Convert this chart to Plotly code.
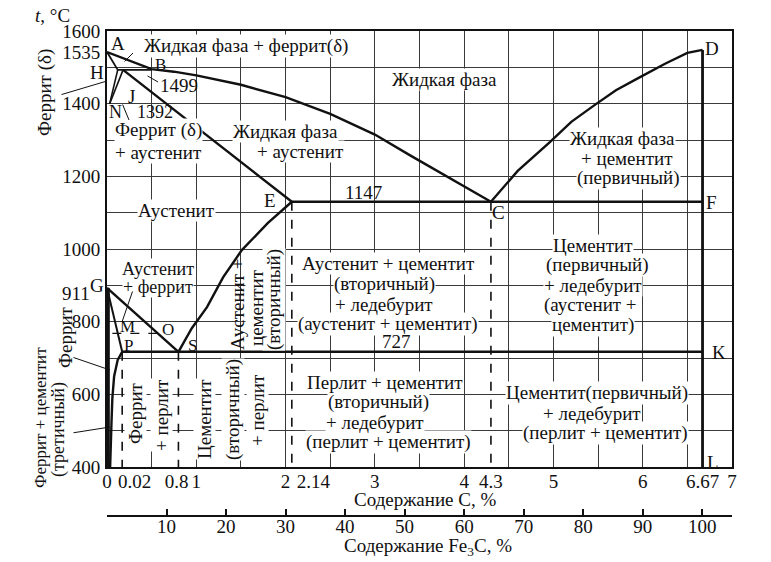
import plotly.graph_objects as go

# ---------------- data (C %, temperature °C) ----------------
liq_abc_c = [0, 0.25, 0.5, 0.75, 1.0, 1.5, 2.0, 2.5, 3.0, 3.4, 3.8, 4.3]
liq_abc_t = [1542, 1518, 1495, 1488, 1478, 1452, 1418, 1372, 1315, 1257, 1200, 1130]
liq_cd_c = [4.3, 4.6, 4.96, 5.2, 5.46, 5.7, 5.97, 6.25, 6.5, 6.67]
liq_cd_t = [1130, 1215, 1294, 1350, 1396, 1437, 1473, 1510, 1540, 1548]
hjb_c = [0.12, 0.18, 0.5]
hjb_t = [1493, 1493, 1493]
ah_c = [0, 0.12]
ah_t = [1542, 1493]
hn_c = [0.12, 0.03]
hn_t = [1493, 1400]
jn_c = [0.18, 0.03]
jn_t = [1493, 1400]
je_c = [0.18, 1.68, 2.07]
je_t = [1493, 1204, 1130]
ecf_c = [2.07, 6.67]
ecf_t = [1130, 1130]
es_c = [0.8, 0.95, 1.12, 1.3, 1.51, 1.8, 2.07]
es_t = [717, 782, 840, 922, 997, 1071, 1130]
gs_c = [0, 0.8]
gs_t = [893, 717]
gp_c = [0, 0.17]
gp_t = [893, 717]
pq_c = [0.17, 0.12, 0.08, 0.06, 0.05, 0.035]
pq_t = [717, 695, 650, 590, 520, 400]
psk_c = [0.17, 6.67]
psk_t = [717, 717]
mo_c = [0.06, 0.57]
mo_t = [768, 768]
dl_c = [6.67, 6.67]
dl_t = [1548, 400]
fe_c = [0.012, 0.012]
fe_t = [893, 400]
struct_c = [0.17, 0.8, 2.07, 4.3]
struct_top = [717, 717, 1130, 1130]
t_bottom = 400

x_tickvals = [0, 0.31, 0.78, 1, 2, 2.31, 3, 4, 4.3, 5, 6, 6.67, 7]
x_ticktext = ["0", "0.02", "0.8", "1", "2", "2.14", "3", "4", "4.3", "5", "6", "6.67", "7"]
y_tickvals = [1600, 1542, 1400, 1200, 1000, 800, 600, 400]
y_ticktext = ["1600", "1535", "1400", "1200", "1000", "800", "600", "400"]
g_point_label = "911"
fe3c_tickvals = [0, 10, 20, 30, 40, 50, 60, 70, 80, 90, 100, 105]
fe3c_ticktext = ["", "10", "20", "30", "40", "50", "60", "70", "80", "90", "100", ""]

# ---------------- figure ----------------
W, H = 771, 562
ML, MR, MT, MB = 107, 39, 31, 20
PW, PH = W - ML - MR, H - MT - MB
YDOM0 = (H - MB - 467) / PH
FONT = "Liberation Serif"
INK = "#111111"
FS = 19

fig = go.Figure()

def line(cs, ts, width=2.4, dash="solid"):
    fig.add_trace(go.Scatter(x=cs, y=ts, mode="lines", hoverinfo="skip",
                             line=dict(color=INK, width=width, dash=dash)))

line(liq_abc_c, liq_abc_t)
line(liq_cd_c, liq_cd_t)
line(hjb_c, hjb_t, 1.6)
line(ah_c, ah_t, 1.8)
line(hn_c, hn_t, 1.6)
line(jn_c, jn_t, 1.6)
line(je_c, je_t)
line(ecf_c, ecf_t)
line(es_c, es_t)
line(gs_c, gs_t)
line(gp_c, gp_t, 2.0)
line(pq_c, pq_t, 2.4)
line(psk_c, psk_t, 2.4)
line(mo_c, mo_t, 1.2, "dash")
line(dl_c, dl_t, 2.8)
line(fe_c, fe_t, 3.5)
for c, top in zip(struct_c, struct_top):
    line([c, c], [top, t_bottom], 1.6, "dash")

# invisible trace that anchors the Fe3C axis
fig.add_trace(go.Scatter(x=[fe3c_tickvals[0], fe3c_tickvals[-1]], y=[t_bottom, t_bottom],
                         xaxis="x2", yaxis="y", mode="lines", opacity=0, hoverinfo="skip"))

erasers, texts, leaders = [], [], []

def px(x):
    return (x - ML) / PW

def py(y):
    return (H - MB - y) / PH

def lab(text, x, y, angle=0, bg=True, size=FS):
    base = dict(text=text, x=px(x), y=py(y), xref="paper", yref="paper", showarrow=False,
                textangle=angle, borderpad=0, xanchor="center", yanchor="middle")
    if bg:
        erasers.append(dict(base, font=dict(family=FONT, size=size, color="white"),
                            bgcolor="white"))
    texts.append(dict(base, font=dict(family=FONT, size=size, color=INK)))

def leader(x0, y0, x1, y1):
    leaders.append(dict(text="", x=px(x1), y=py(y1), xref="paper", yref="paper", showarrow=True,
                        arrowhead=0, arrowwidth=1, arrowcolor=INK, ax=x0 - x1, ay=y0 - y1,
                        standoff=0))

lab("A", 118, 43, bg=False)
lab("Жидкая фаза + феррит(δ)", 246, 46)
lab("B", 160, 64, bg=False, size=17)
lab("H", 97, 72, bg=False)
lab("1499", 179, 85, bg=False)
lab("J", 131, 96, bg=False)
lab("N", 115, 112, bg=False, size=18)
lab("1392", 155, 112, bg=False, size=18)
lab("Феррит (δ)", 158, 130)
lab("+ аустенит", 158, 152)
lab("Жидкая фаза", 285, 131)
lab("+ аустенит", 300, 151)
lab("Жидкая фаза", 445, 79)
lab("Жидкая фаза", 622, 138)
lab("+ цементит", 627, 158)
lab("(первичный)", 628, 178)
lab("D", 712, 48, bg=False)
lab("1147", 363, 192, bg=False)
lab("E", 270, 200, bg=False)
lab("C", 498, 212, bg=False)
lab("F", 711, 202, bg=False)
lab("Аустенит", 176, 210)
lab("Аустенит", 158, 269, size=18)
lab("+ феррит", 158, 287, size=18)
lab("G", 97, 285, bg=False)
lab(g_point_label, 76, 293, bg=False)
lab("M", 127, 326, bg=False, size=17)
lab("O", 168, 329, bg=False, size=17)
lab("P", 128, 345, bg=False, size=17)
lab("S", 192, 345, bg=False, size=17)
lab("Аустенит +", 237, 304, angle=-90, bg=False)
lab("цементит", 256, 308, angle=-90)
lab("(вторичный)", 274, 300, angle=-90)
lab("Аустенит + цементит", 388, 263)
lab("(вторичный)", 384, 284)
lab("+ ледебурит", 384, 304)
lab("(аустенит + цементит)", 388, 324)
lab("Цементит", 593, 245)
lab("(первичный)", 597, 265)
lab("+ ледебурит", 593, 285)
lab("(аустенит +", 590, 305)
lab("цементит)", 593, 325)
lab("727", 396, 341, bg=False)
lab("K", 719, 352, bg=False)
lab("Перлит + цементит", 385, 382)
lab("(вторичный)", 378, 402)
lab("+ ледебурит", 375, 422)
lab("(перлит + цементит)", 388, 442)
lab("Цементит(первичный)", 597, 393)
lab("+ ледебурит", 592, 413)
lab("(перлит + цементит)", 605, 433)
lab("L", 713, 462, bg=False)
lab("Феррит", 135, 413, angle=-90)
lab("+ перлит", 161, 415, angle=-90)
lab("Цементит", 204, 419, angle=-90)
lab("(вторичный)", 233, 410, angle=-90)
lab("+ перлит", 257, 410, angle=-90)
lab("Феррит (δ)", 45, 93, angle=-90, bg=False)
lab("Феррит", 65, 337, angle=-90, bg=False)
lab("Феррит + цементит", 40, 418, angle=-90, bg=False, size=17)
lab("(третичный)", 58, 430, angle=-90, bg=False, size=18)
lab("<i>t</i>, °C", 52, 16, bg=False)
lab("Содержание C, %", 425, 499, bg=False)
lab("Содержание Fe<sub>3</sub>C, %", 428, 547, bg=False)

leader(60, 95, 107, 81)
leader(123, 63, 133, 53)
leader(146, 75, 158, 82)
leader(122, 103, 129, 120)
leader(133, 290, 122, 322)
leader(72, 357, 110, 370)
leader(72, 433, 110, 427)

fig.update_layout(
    width=W, height=H, margin=dict(l=ML, r=MR, t=MT, b=MB, autoexpand=False),
    paper_bgcolor="white", plot_bgcolor="white", showlegend=False,
    font=dict(family=FONT, size=FS, color=INK),
    annotations=erasers + texts + leaders,
    xaxis=dict(range=[0, 7], domain=[0, 1], anchor="y", tickmode="array", automargin=False,
               tickvals=x_tickvals, ticktext=x_ticktext, showgrid=False, zeroline=False,
               showline=True, linecolor=INK, linewidth=2, mirror=True, ticks="",
               ticklabelstandoff=-4, tickfont=dict(family=FONT, size=FS, color=INK),
               minor=dict(tickmode="linear", tick0=0, dtick=0.5, showgrid=True,
                          gridcolor="#3a3a3a", gridwidth=1, ticks="")),
    yaxis=dict(range=[400, 1600], domain=[YDOM0, 1], tickmode="array", automargin=False,
               tickvals=y_tickvals, ticktext=y_ticktext, showgrid=False, zeroline=False,
               showline=True, linecolor=INK, linewidth=2, mirror=True, ticks="",
               ticklabelstandoff=1, tickfont=dict(family=FONT, size=FS, color=INK),
               minor=dict(tickmode="linear", tick0=0, dtick=100, showgrid=True,
                          gridcolor="#3a3a3a", gridwidth=1, ticks="")),
    xaxis2=dict(overlaying="x", anchor="free", position=py(516), side="bottom", automargin=False,
                range=[0, 105], tickmode="array", tickvals=fe3c_tickvals, ticktext=fe3c_ticktext,
                showgrid=False, zeroline=False, showline=True, linecolor=INK, linewidth=1.5,
                ticks="inside", ticklen=6, tickcolor=INK, tickwidth=1.5,
                ticklabelstandoff=-7, tickfont=dict(family=FONT, size=FS, color=INK)),
)

fig.write_html("out.html", config={"displayModeBar": False},
               post_script="document.body.style.margin='0px';")
